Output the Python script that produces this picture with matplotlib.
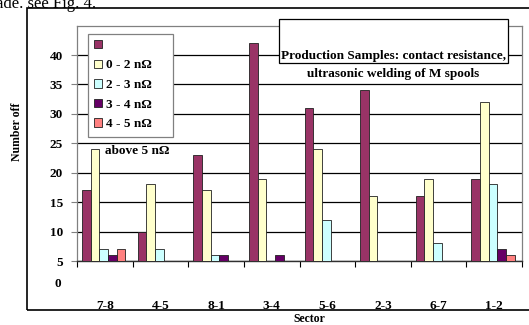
import numpy as np
import matplotlib
matplotlib.use('Agg')
import matplotlib.pyplot as plt
from matplotlib.patches import Rectangle, Patch

plt.rcParams['font.family'] = ['Liberation Serif', 'DejaVu Serif']
plt.rcParams['font.weight'] = 'bold'

sectors = ['7-8', '4-5', '8-1', '3-4', '5-6', '2-3', '6-7', '1-2']
# 0 = geen balk (valt onder de as)
boven_5 = [17, 10, 23, 42, 31, 34, 16, 19]
r_0_2 = [24, 18, 17, 19, 24, 16, 19, 32]
r_2_3 = [7, 7, 6, 0, 12, 0, 8, 18]
r_3_4 = [6, 0, 6, 6, 0, 0, 0, 7]
r_4_5 = [7, 0, 0, 0, 0, 0, 0, 6]

series = [boven_5, r_0_2, r_2_3, r_3_4, r_4_5]
kleuren = ['#993366', '#FFFFCC', '#CCFFFF', '#660066', '#FF8080']
legend_labels = ['', '0 - 2 n\u03a9', '2 - 3 n\u03a9', '3 - 4 n\u03a9', '4 - 5 n\u03a9']
yticks = [5, 10, 15, 20, 25, 30, 35, 40]

W, H = 529, 325
fs = 9.5
fig = plt.figure(figsize=(W / 100, H / 100), dpi=100)
ax = fig.add_axes([77 / W, 1 - 261 / H, (522 - 77) / W, (261 - 26) / H])

x = np.arange(len(sectors))
bw = 0.156
for i, (vals, kl) in enumerate(zip(series, kleuren)):
    ax.bar(x + (i - 2) * bw - 0.02, vals, width=bw, color=kl,
           edgecolor='#202020', linewidth=0.6, zorder=3)

ax.set_xlim(-0.5, len(sectors) - 0.5)
ax.set_ylim(5, 44.93)
ax.set_yticks(yticks)
ax.set_yticklabels([str(t) for t in yticks], fontsize=fs, fontweight='bold')
ax.yaxis.grid(True, color='black', linewidth=0.9, zorder=0)
ax.tick_params(axis='y', length=4, width=0.8, color='#808080', pad=6)

ax.set_xticks(np.arange(len(sectors) + 1) - 0.5)
ax.set_xticklabels([])
ax.tick_params(axis='x', which='major', length=4, width=0.8, direction='out')
ax.set_xticks(x, minor=True)
ax.set_xticklabels(sectors, minor=True, fontsize=fs, fontweight='bold')
ax.tick_params(axis='x', which='minor', length=0, pad=28)

for s in ['left', 'top', 'right']:
    ax.spines[s].set_color('#808080')
    ax.spines[s].set_linewidth(0.9)
ax.spines['bottom'].set_color('#303030')
ax.spines['bottom'].set_linewidth(1.0)

# "0" label onder de as
ax.text(-0.035, -0.098, '0', transform=ax.transAxes, ha='right', va='center',
        fontsize=fs, fontweight='bold')

ax.set_xlabel('Sector', fontsize=8.5, fontweight='bold')
ax.xaxis.set_label_coords(0.522, -0.221)
ax.set_ylabel('Number off', fontsize=8.5, fontweight='bold')
ax.yaxis.set_label_coords(-0.122, 0.55)

# legendakader apart getekend (breder dan de tekst, zoals in Excel)
ax.add_patch(Rectangle(((88 - 77) / 445, (261 - 137) / 235), (173 - 88) / 445, (137 - 34) / 235,
                       transform=ax.transAxes, facecolor='white', edgecolor='#808080',
                       linewidth=0.9, zorder=4))
handles = [Patch(facecolor=k, edgecolor='#202020', linewidth=0.6) for k in kleuren]
leg = ax.legend(handles, legend_labels, loc='upper left',
                bbox_to_anchor=((88 - 77) / 445, (261 - 34) / 235),
                prop={'size': fs, 'weight': 'bold'}, frameon=False,
                handlelength=0.6, handleheight=0.6,
                handletextpad=0.3, labelspacing=0.57, borderpad=0.45, borderaxespad=0)
leg.set_zorder(5)
ax.text((105 - 77) / 445, (261 - 151) / 235, 'above 5 n\u03a9', transform=ax.transAxes,
        ha='left', va='center', fontsize=fs, fontweight='bold')

# titelkader
fig.patches.append(Rectangle((279 / W, 1 - 63 / H), (508 - 279) / W, (63 - 19) / H,
                             transform=fig.transFigure, facecolor='white',
                             edgecolor='black', linewidth=0.9, zorder=2))
fig.text(393.5 / W, 1 - 56 / H, 'Production Samples: contact resistance,',
         ha='center', va='center', fontsize=fs, fontweight='bold', zorder=4)
fig.text(393.5 / W, 1 - 74 / H, 'ultrasonic welding of M spools',
         ha='center', va='center', fontsize=fs, fontweight='bold', zorder=4)

# buitenkader van de grafiek
fig.patches.append(Rectangle((27 / W, 1 - 310 / H), 1.2, (310 - 8) / H,
                             transform=fig.transFigure, fill=False,
                             edgecolor='black', linewidth=1.2, zorder=2))

# afgesneden documenttekst bovenaan
fig.text(-4 / W, 1 - 8.5 / H, 'ade. see Fig. 4.', ha='left', va='baseline',
         fontsize=12, fontweight='normal', zorder=4)

fig.savefig('out.png', dpi=100)
